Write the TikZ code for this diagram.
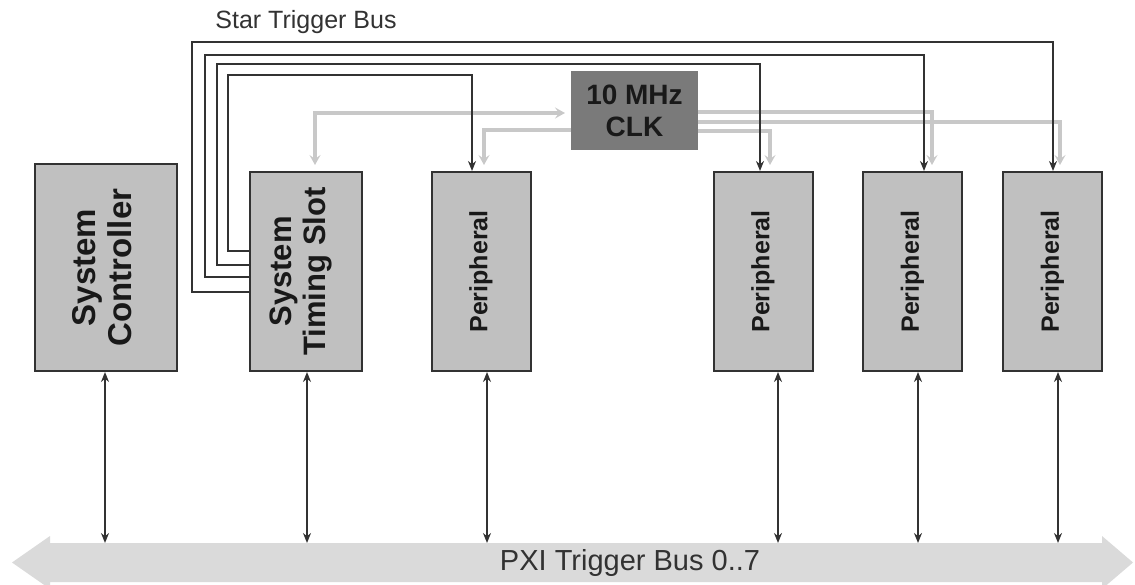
\documentclass[tikz,border=0pt]{standalone}
\usepackage{fontspec}
\setmainfont{Liberation Sans}
\usetikzlibrary{arrows.meta}
\definecolor{boxgray}{RGB}{192,192,192}
\definecolor{clkgray}{RGB}{122,122,122}
\definecolor{busgray}{RGB}{218,218,218}
\definecolor{linegray}{RGB}{200,200,200}
\definecolor{edgegray}{RGB}{50,50,50}
\definecolor{inkgray}{RGB}{25,25,25}

\begin{document}
\begin{tikzpicture}[x=1pt, y=-1pt,
    box/.style={draw=edgegray, line width=2pt, fill=boxgray, inner sep=0pt, text=inkgray},
    slot/.style={box, minimum width=99pt, minimum height=199pt, font=\fontsize{25}{28}\selectfont\bfseries},
    star/.style={draw=edgegray, line width=2pt, >={Stealth[length=10pt,width=8pt]}, ->},
    clk/.style={draw=linegray, line width=3.2pt, >={Stealth[length=10pt,width=11pt,inset=4pt]}, ->, shorten >=6pt},
    bus/.style={draw=edgegray, line width=2pt, >={Stealth[length=10pt,width=8pt]}, <->}]
  \useasboundingbox (0,0) rectangle (1135,585);
  \node [box, minimum width=142pt, minimum height=207pt, font=\fontsize{33}{36}\selectfont\bfseries] (sc) at (106,267.5) {\rotatebox{90}{\begin{tabular}{@{}c@{}}System\\Controller\end{tabular}}};
  \node [box, minimum width=112pt, minimum height=199pt, font=\fontsize{31}{34}\selectfont\bfseries] (sts) at (306,271.5) {\rotatebox{90}{\begin{tabular}{@{}c@{}}System\\Timing Slot\end{tabular}}\hspace*{8pt}};
  \node [slot] (p1) at (481,271.5) {\rotatebox{90}{Peripheral}};
  \node [slot] (p2) at (763,271.5) {\rotatebox{90}{Peripheral}};
  \node [slot] (p3) at (912.5,271.5) {\rotatebox{90}{Peripheral}};
  \node [slot] (p4) at (1052.5,271.5) {\rotatebox{90}{Peripheral}};
  \node [box, draw=clkgray, fill=clkgray, minimum width=125pt, minimum height=77pt, align=center, font=\fontsize{28}{32}\selectfont\bfseries] (clk) at (634.5,110.5) {10 MHz\\CLK};
  \node [font=\fontsize{25}{28}\selectfont, text=edgegray] (startitle) at (306,22) {Star Trigger Bus};
  % PXI trigger bus
  \fill [busgray] (12,562.5) -- (50,536) -- (50,543) -- (1102,543) -- (1102,536) -- (1133,562.5)
    -- (1102,589) -- (1102,582) -- (50,582) -- (50,589) -- cycle;
  \node [font=\fontsize{29}{32}\selectfont, text=edgegray] (pxi) at (630,563) {PXI Trigger Bus 0..7};
  \coordinate (bustop) at (0,543);
  \draw [bus] ([xshift=-1pt]sc.south) -- ([xshift=-1pt]sc.south |- bustop);
  \draw [bus] ([xshift=1pt]sts.south) -- ([xshift=1pt]sts.south |- bustop);
  \draw [bus] ([xshift=6pt]p1.south) -- ([xshift=6pt]p1.south |- bustop);
  \draw [bus] ([xshift=15pt]p2.south) -- ([xshift=15pt]p2.south |- bustop);
  \draw [bus] ([xshift=5.5pt]p3.south) -- ([xshift=5.5pt]p3.south |- bustop);
  \draw [bus] ([xshift=5.5pt]p4.south) -- ([xshift=5.5pt]p4.south |- bustop);
  % 10 MHz clock lines
  \draw [clk, <->, shorten <=6pt] ([xshift=9pt]sts.north) |- ([yshift=-2.5pt]clk.west);
  \draw [clk] ([yshift=-19.5pt]clk.west) -| ([xshift=3pt]p1.north);
  \draw [clk] ([yshift=-20.5pt]clk.east) -| ([xshift=7pt]p2.north);
  \draw [clk] ([yshift=-1.5pt]clk.east) -| ([xshift=19.5pt]p3.north);
  \draw [clk] ([yshift=-11.5pt]clk.east) -| ([xshift=7.5pt]p4.north);
  % star trigger lines
  \draw [star] ([yshift=-80pt]sts.north west) -- ++(-21,0) -- ++(0,-176) -| ([xshift=-9pt]p1.north);
  \draw [star] ([yshift=-94pt]sts.north west) -- ++(-32,0) -- ++(0,-201) -| ([xshift=-3pt]p2.north);
  \draw [star] ([yshift=-106pt]sts.north west) -- ++(-44,0) -- ++(0,-222) -| ([xshift=11.5pt]p3.north);
  \draw [star] ([yshift=-121pt]sts.north west) -- ++(-57,0) -- ++(0,-250) -| ([xshift=0.5pt]p4.north);
\end{tikzpicture}
\end{document}
